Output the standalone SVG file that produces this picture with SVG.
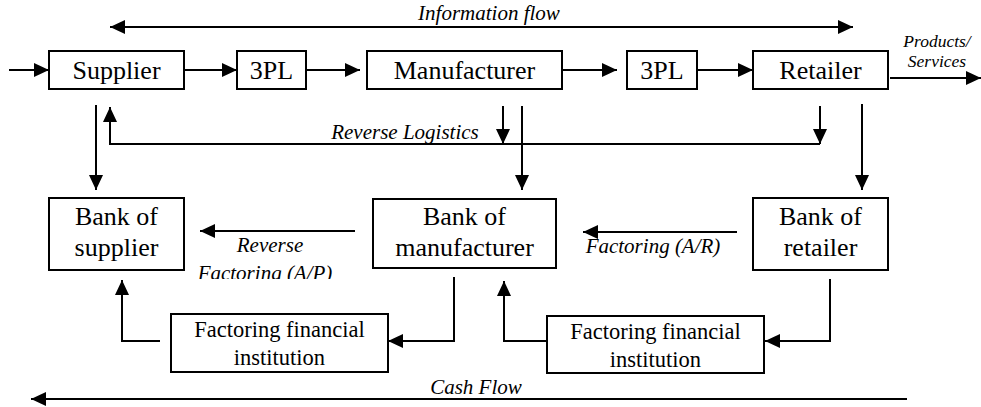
<svg xmlns="http://www.w3.org/2000/svg" width="981" height="407" viewBox="0 0 981 407" font-family="Liberation Serif, Times New Roman, DejaVu Serif, serif">
<style>
.box{fill:#fff;stroke:#000;stroke-width:2}
.n,.f,.l{text-anchor:middle;fill:#000}
.n{font-size:26px}
.f{font-size:22.5px}
.l{font-size:21px;font-style:italic}
.s{font-size:17.5px}
.ln{fill:none;stroke:#000;stroke-width:2}
.a{marker-end:url(#ah)}
</style>
<defs>
<marker id="ah" markerUnits="userSpaceOnUse" markerWidth="15" markerHeight="14" refX="15" refY="7" orient="auto">
<path d="M0,0 L15,7 L0,14 z" fill="#000"/>
</marker>
<marker id="as" markerUnits="userSpaceOnUse" markerWidth="15" markerHeight="14" refX="0" refY="7" orient="auto">
<path d="M15,0 L0,7 L15,14 z" fill="#000"/>
</marker>
<clipPath id="clipAP"><rect x="150" y="255" width="240" height="24"/></clipPath>
</defs>

<g id="connectors">
<path class="ln a" d="M9,70 L49,70"/>
<path class="ln a" d="M184,70 L237,70"/>
<path class="ln a" d="M306,70 L360,70"/>
<path class="ln a" d="M562,70 L617,70"/>
<path class="ln a" d="M697,70 L753,70"/>
<path class="ln a" d="M890,78 L981,78"/>
<path class="ln a" d="M110,27 L853,27" marker-start="url(#as)"/>
<path class="ln a" d="M503,106 L503,144"/>
<path class="ln a" d="M820,106 L820,144"/>
<path class="ln a" d="M820,144 L110,144 L110,107"/>
<path class="ln a" d="M96,105 L96,190"/>
<path class="ln a" d="M522,106 L522,190"/>
<path class="ln a" d="M862,104 L862,190"/>
<path class="ln a" d="M355,231 L200,231"/>
<path class="ln a" d="M737,232 L583,232"/>
<path class="ln a" d="M454,277 L454,341 L388,341"/>
<path class="ln a" d="M160,341 L122,341 L122,280"/>
<path class="ln a" d="M830,279 L830,341 L765,341"/>
<path class="ln a" d="M547,341 L504,341 L504,281"/>
<path class="ln a" d="M907,399 L31,399"/>
<text class="l" x="489" y="20">Information flow</text>
<text class="l" x="405" y="139">Reverse Logistics</text>
<text class="l s" x="937" y="47">Products/</text>
<text class="l s" x="937" y="67">Services</text>
<text class="l" x="270" y="252">Reverse</text>
<text class="l" x="265" y="280" clip-path="url(#clipAP)">Factoring (A/P)</text>
<text class="l" x="653" y="253">Factoring (A/R)</text>
<text class="l" x="476" y="394">Cash Flow</text>
</g>

<g id="supplier"><rect class="box" x="49" y="51" width="135" height="38"/><text class="n" x="116.5" y="79">Supplier</text></g>
<g id="tpl1"><rect class="box" x="237" y="51" width="69" height="38"/><text class="n" x="271.5" y="79">3PL</text></g>
<g id="manufacturer"><rect class="box" x="367" y="51" width="195" height="38"/><text class="n" x="464.5" y="79">Manufacturer</text></g>
<g id="tpl2"><rect class="box" x="627" y="51" width="70" height="38"/><text class="n" x="662" y="79">3PL</text></g>
<g id="retailer"><rect class="box" x="753" y="51" width="135" height="38"/><text class="n" x="820.5" y="79">Retailer</text></g>

<g id="bank-supplier"><rect class="box" x="49" y="198" width="135" height="72"/><text class="n" x="116.5" y="225">Bank of</text><text class="n" x="116.5" y="256">supplier</text></g>
<g id="bank-manufacturer"><rect class="box" x="373" y="199" width="183" height="69"/><text class="n" x="464.5" y="225">Bank of</text><text class="n" x="464.5" y="256">manufacturer</text></g>
<g id="bank-retailer"><rect class="box" x="753" y="198" width="135" height="72"/><text class="n" x="820.5" y="225">Bank of</text><text class="n" x="820.5" y="256">retailer</text></g>

<g id="ffi1"><rect class="box" x="171" y="314" width="217" height="58"/><text class="f" x="279.5" y="337">Factoring financial</text><text class="f" x="279.5" y="365">institution</text></g>
<g id="ffi2"><rect class="box" x="547" y="316" width="217" height="57"/><text class="f" x="655.5" y="339">Factoring financial</text><text class="f" x="655.5" y="367">institution</text></g>
</svg>
